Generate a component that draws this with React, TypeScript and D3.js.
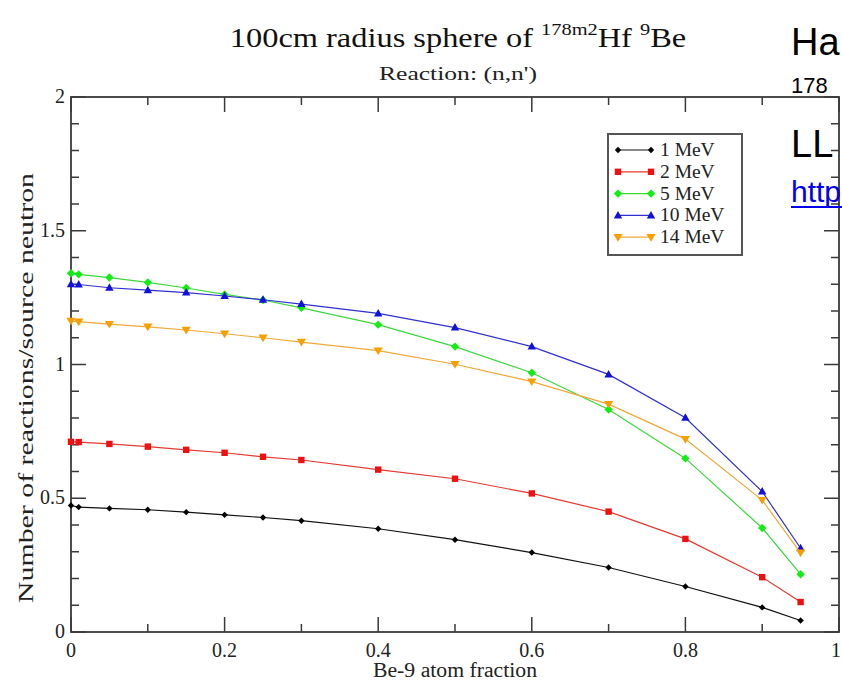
import React from "react";
import * as d3 from "d3";

const fractions = [0, 0.01, 0.05, 0.1, 0.15, 0.2, 0.25, 0.3, 0.4, 0.5, 0.6, 0.7, 0.8, 0.9, 0.95];
const mev1 = [0.473, 0.467, 0.462, 0.457, 0.448, 0.438, 0.428, 0.416, 0.386, 0.345, 0.297, 0.241, 0.17, 0.092, 0.043];
const mev2 = [0.711, 0.71, 0.703, 0.693, 0.681, 0.67, 0.655, 0.643, 0.607, 0.573, 0.518, 0.45, 0.348, 0.205, 0.112];
const mev5 = [1.341, 1.337, 1.325, 1.307, 1.286, 1.262, 1.241, 1.212, 1.149, 1.067, 0.969, 0.832, 0.649, 0.389, 0.216];
const mev10 = [1.3, 1.299, 1.287, 1.278, 1.269, 1.256, 1.242, 1.226, 1.191, 1.138, 1.067, 0.963, 0.801, 0.525, 0.313];
const mev14 = [1.163, 1.16, 1.151, 1.141, 1.129, 1.115, 1.1, 1.084, 1.052, 1.001, 0.936, 0.852, 0.721, 0.493, 0.296];

const seriesNames = ["1 MeV", "2 MeV", "5 MeV", "10 MeV", "14 MeV"];
const seriesValues = [mev1, mev2, mev5, mev10, mev14];
const lineColors = ["#111111", "#e43a30", "#3cd83c", "#3030d0", "#f0a838"];
const markColors = ["#000000", "#ee1111", "#11ee11", "#1111dd", "#f5a000"];
const markShapes = ["diamondS", "square", "diamond", "triUp", "triDown"];

const xTicksMajor = [0, 0.2, 0.4, 0.6, 0.8, 1];
const xTickLabels = ["0", "0.2", "0.4", "0.6", "0.8", "1"];
const yTicksMajor = [0, 0.5, 1, 1.5, 2];
const yTickLabels = ["0", "0.5", "1", "1.5", "2"];

const W = 842, H = 683;
const L = 71, R = 839, T = 97, B = 632;
const SERIF = "'Liberation Serif', 'Times New Roman', serif";
const SANS = "'Liberation Sans', Arial, sans-serif";

function markerPath(shape: string): string {
  switch (shape) {
    case "diamondS": return "M0,-3.2L3.2,0L0,3.2L-3.2,0Z";
    case "square": return "M-3.2,-3.2H3.2V3.2H-3.2Z";
    case "diamond": return "M0,-4.2L4.2,0L0,4.2L-4.2,0Z";
    case "triUp": return "M0,-4.5L4.2,3L-4.2,3Z";
    case "triDown": return "M0,4.5L4.6,-3.2L-4.6,-3.2Z";
  }
  return "";
}

export default function App() {
  const x = d3.scaleLinear().domain([0, 1]).range([L, R]);
  const y = d3.scaleLinear().domain([0, 2]).range([B, T]);
  const xMinor = d3.range(0.1, 1, 0.2);
  const yMinor = d3.range(0, 2.0001, 0.1).filter((v) => Math.abs(v * 2 - Math.round(v * 2)) > 1e-6);

  const line = d3.line<[number, number]>().x((d) => x(d[0])).y((d) => y(d[1]));
  const axisColor = "#3a3a3a";

  return (
    <svg width={W} height={H} style={{ position: "absolute", left: 0, top: 0, background: "#fff" }}>
      <rect x={0} y={0} width={W} height={H} fill="#fff" />
      {/* Title */}
      <g transform="translate(458,47) scale(1.2,1)">
        <text textAnchor="middle" fontFamily={SERIF} fontSize={27} fill="#111">
          100cm radius sphere of{" "}
          <tspan fontSize={17} dy={-12}>178m2</tspan>
          <tspan fontSize={27} dy={12}>Hf </tspan>
          <tspan fontSize={17} dy={-12}>9</tspan>
          <tspan fontSize={27} dy={12}>Be</tspan>
        </text>
      </g>
      <text x={458} y={80} textAnchor="middle" fontFamily={SERIF} fontSize={18} fill="#222" textLength={158} lengthAdjust="spacingAndGlyphs">
        Reaction: (n,n')
      </text>

      {/* Frame */}
      <rect x={L} y={T} width={R - L} height={B - T} fill="none" stroke={axisColor} strokeWidth={1.8} />
      {xTicksMajor.map((v) => (
        <g key={"xm" + v}>
          <line x1={x(v)} x2={x(v)} y1={B} y2={B - 15} stroke={axisColor} strokeWidth={1.5} />
          <line x1={x(v)} x2={x(v)} y1={T} y2={T + 15} stroke={axisColor} strokeWidth={1.5} />
        </g>
      ))}
      {xMinor.map((v) => (
        <g key={"xn" + v}>
          <line x1={x(v)} x2={x(v)} y1={B} y2={B - 8} stroke={axisColor} strokeWidth={1.5} />
          <line x1={x(v)} x2={x(v)} y1={T} y2={T + 8} stroke={axisColor} strokeWidth={1.5} />
        </g>
      ))}
      {yTicksMajor.map((v) => (
        <g key={"ym" + v}>
          <line x1={L} x2={L + 15} y1={y(v)} y2={y(v)} stroke={axisColor} strokeWidth={1.5} />
          <line x1={R} x2={R - 15} y1={y(v)} y2={y(v)} stroke={axisColor} strokeWidth={1.5} />
        </g>
      ))}
      {yMinor.map((v) => (
        <g key={"yn" + v}>
          <line x1={L} x2={L + 8} y1={y(v)} y2={y(v)} stroke={axisColor} strokeWidth={1.5} />
          <line x1={R} x2={R - 8} y1={y(v)} y2={y(v)} stroke={axisColor} strokeWidth={1.5} />
        </g>
      ))}
      {xTicksMajor.map((v, i) => (
        <text key={"xl" + v} x={i === xTicksMajor.length - 1 ? 841 : x(v)} y={657} textAnchor={i === xTicksMajor.length - 1 ? "end" : "middle"} fontFamily={SERIF} fontSize={20} fill="#222">
          {xTickLabels[i]}
        </text>
      ))}
      {yTicksMajor.map((v, i) => (
        <text key={"yl" + v} x={65} y={y(v) + 6} textAnchor="end" fontFamily={SERIF} fontSize={20} fill="#222">
          {yTickLabels[i]}
        </text>
      ))}
      <text x={455} y={677} textAnchor="middle" fontFamily={SERIF} fontSize={20} fill="#222" textLength={164} lengthAdjust="spacingAndGlyphs">
        Be-9 atom fraction
      </text>
      <text transform="translate(33,388) rotate(-90)" textAnchor="middle" fontFamily={SERIF} fontSize={20} fill="#222" textLength={430} lengthAdjust="spacingAndGlyphs">
        Number of reactions/source neutron
      </text>

      {/* Series */}
      {seriesValues.map((vals, si) => {
        const pts: [number, number][] = fractions.map((f, i) => [f, vals[i]]);
        return (
          <g key={"s" + si}>
            <path d={line(pts) || ""} fill="none" stroke={lineColors[si]} strokeWidth={1.2} />
            {pts.map((p, i) => (
              <path key={i} d={markerPath(markShapes[si])} transform={`translate(${x(p[0])},${y(p[1])})`} fill={markColors[si]} />
            ))}
          </g>
        );
      })}

      {/* Legend */}
      <rect x={608} y={134} width={134} height={121} fill="#fff" stroke="#555" strokeWidth={2} />
      {seriesNames.map((name, i) => {
        const ry = 150 + i * 21.8;
        return (
          <g key={"lg" + i}>
            <line x1={618} x2={651} y1={ry} y2={ry} stroke={lineColors[i]} strokeWidth={1.2} />
            <path d={markerPath(markShapes[i])} transform={`translate(618,${ry})`} fill={markColors[i]} />
            <path d={markerPath(markShapes[i])} transform={`translate(651,${ry})`} fill={markColors[i]} />
            <text x={660} y={ry + 6} fontFamily={SERIF} fontSize={19.5} fill="#222">{name}</text>
          </g>
        );
      })}

      {/* Slide text overlay */}
      <text x={791} y={55} fontFamily={SANS} fontSize={38} fill="#000">Ha</text>
      <text x={791} y={93} fontFamily={SANS} fontSize={22} fill="#000">178</text>
      <text x={791} y={157} fontFamily={SANS} fontSize={38} fill="#000">LL</text>
      <text x={791} y={202} fontFamily={SANS} fontSize={30} fill="#0000ee">http</text>
      <line x1={791} x2={842} y1={207} y2={207} stroke="#0000ee" strokeWidth={2} />
    </svg>
  );
}
